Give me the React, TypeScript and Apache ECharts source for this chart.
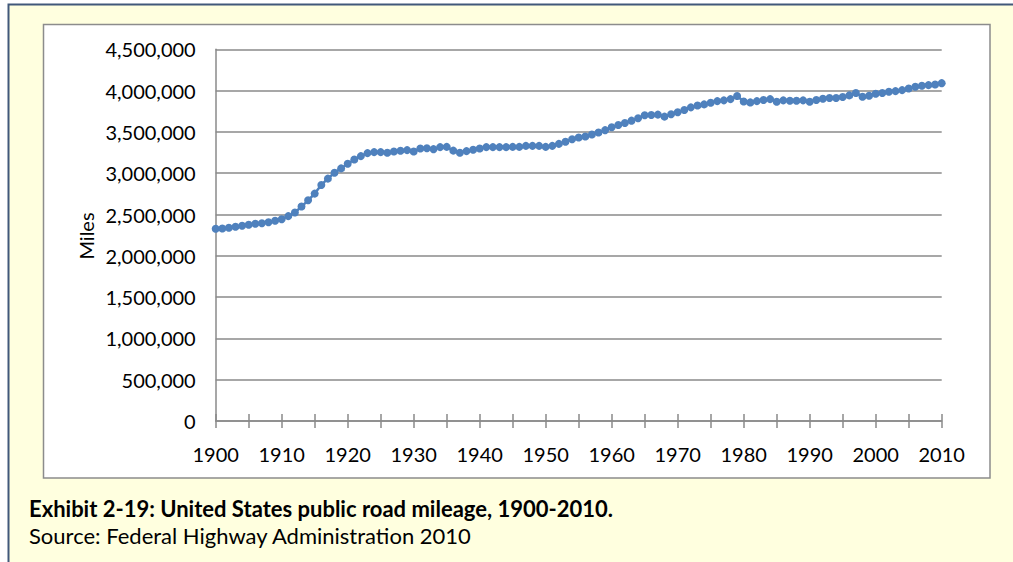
import React, { useEffect, useRef } from "react";
import * as echarts from "echarts";

const years: number[] = [];
for (let y = 1900; y <= 2010; y++) years.push(y);

// Public road mileage (miles)
const miles: number[] = [
  2328000, 2331000, 2340000, 2352000, 2364000, 2376000, 2388000, 2395000, 2407000, 2424000,
  2443000, 2480000, 2524000, 2596000, 2672000, 2753000, 2858000, 2934000, 3006000, 3058000,
  3114000, 3166000, 3207000, 3243000, 3255000, 3255000, 3247000, 3263000, 3271000, 3279000,
  3263000, 3299000, 3303000, 3291000, 3316000, 3319000, 3273000, 3248000, 3267000, 3283000,
  3299000, 3316000, 3316000, 3316000, 3316000, 3319000, 3319000, 3331000, 3331000, 3331000,
  3319000, 3331000, 3355000, 3380000, 3412000, 3432000, 3444000, 3468000, 3492000, 3521000,
  3557000, 3584000, 3608000, 3636000, 3665000, 3701000, 3705000, 3709000, 3685000, 3713000,
  3737000, 3765000, 3797000, 3820000, 3833000, 3853000, 3873000, 3882000, 3897000, 3934000,
  3869000, 3857000, 3873000, 3886000, 3897000, 3865000, 3882000, 3878000, 3878000, 3882000,
  3865000, 3886000, 3902000, 3910000, 3910000, 3922000, 3942000, 3970000, 3926000, 3938000,
  3962000, 3970000, 3986000, 3994000, 4006000, 4026000, 4046000, 4058000, 4066000, 4074000,
  4090000,
];

const yAxisName = "Miles";
const captionTitle = "Exhibit 2-19: United States public road mileage, 1900-2010.";
const captionSource = "Source: Federal Highway Administration 2010";

const FONT = "Lato, 'Open Sans', sans-serif";
const GRAY = "#8a8a8a";

export default function App() {
  const ref = useRef<HTMLDivElement>(null);
  useEffect(() => {
    document.body.style.margin = "0";
    if (!ref.current) return;
    const chart = echarts.init(ref.current, undefined, { renderer: "svg" });
    const data = years.map((y, i) => [y, miles[i]]);
    chart.setOption({
      animation: false,
      textStyle: { fontFamily: FONT },
      graphic: [
        {
          type: "rect",
          z: -10,
          silent: true,
          shape: { x: 8.5, y: 4.5, width: 1020, height: 570 },
          style: { fill: "#FFFFDF", stroke: "#41587a", lineWidth: 2 },
        },
        {
          type: "rect",
          z: -9,
          silent: true,
          shape: { x: 43.5, y: 24.5, width: 946.5, height: 453.5 },
          style: { fill: "#ffffff", stroke: "#8c8c8c", lineWidth: 1.5 },
        },
        {
          type: "text",
          x: 86,
          y: 236,
          rotation: Math.PI / 2,
          style: {
            text: yAxisName,
            fontFamily: FONT,
            fontSize: 20,
            fill: "#000",
            align: "center",
            verticalAlign: "middle",
          },
        },
        {
          type: "text",
          x: 29,
          y: 508,
          style: {
            text: captionTitle,
            fontFamily: FONT,
            fontWeight: "bold",
            fontSize: 22,
            fill: "#000",
            align: "left",
            verticalAlign: "middle",
          },
        },
        {
          type: "text",
          x: 29,
          y: 535.5,
          style: {
            text: captionSource,
            fontFamily: FONT,
            fontSize: 22,
            fill: "#000",
            align: "left",
            verticalAlign: "middle",
          },
        },
      ],
      grid: {
        left: 215.7,
        right: 71.3,
        top: 49.3,
        bottom: 141,
        outerBoundsMode: "none",
      },
      xAxis: [
        {
          type: "value",
          min: 1900,
          max: 2010,
          interval: 5,
          axisLine: { show: true, lineStyle: { color: GRAY, width: 1.5 } },
          axisTick: { show: true, inside: false, length: 7, lineStyle: { color: GRAY, width: 1.5 } },
          axisLabel: {
            margin: 23,
            fontSize: 20,
            fontFamily: FONT,
            color: "#000",
            formatter: (v: number) => (v % 10 === 0 ? String(v) : ""),
          },
          splitLine: { show: false },
        },
        {
          type: "value",
          position: "bottom",
          min: 1900,
          max: 2010,
          interval: 5,
          axisLine: { show: false },
          axisTick: { show: true, inside: true, length: 7, lineStyle: { color: GRAY, width: 1.5 } },
          axisLabel: { show: false },
          splitLine: { show: false },
        },
      ],
      yAxis: {
        type: "value",
        min: 0,
        max: 4500000,
        interval: 500000,
        axisLine: { show: true, lineStyle: { color: GRAY, width: 1.5 } },
        axisTick: { show: false },
        axisLabel: {
          margin: 20,
          fontSize: 20,
          fontFamily: FONT,
          color: "#000",
          formatter: (v: number) => v.toLocaleString("en-US"),
        },
        splitLine: { show: true, lineStyle: { color: GRAY, width: 1.5 } },
      },
      series: [
        {
          type: "line",
          xAxisIndex: 0,
          data,
          symbol: "circle",
          symbolSize: 8,
          showSymbol: true,
          lineStyle: { color: "#4F81BD", width: 2.5 },
          itemStyle: { color: "#4F81BD" },
        },
      ],
    });
    return () => chart.dispose();
  }, []);
  return <div ref={ref} style={{ width: 1013, height: 562 }} />;
}
